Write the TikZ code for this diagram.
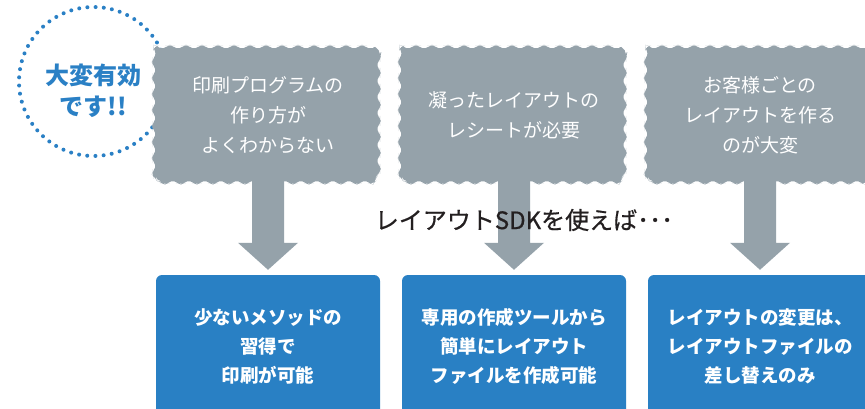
\documentclass[tikz,border=0pt]{standalone}
\usepackage{fontspec}
\setmainfont{Noto Sans CJK JP}
\usetikzlibrary{decorations.pathmorphing,calc}
\definecolor{boxgray}{HTML}{95A2AA}
\definecolor{boxblue}{HTML}{2980C4}
\definecolor{dotblue}{HTML}{2A80C5}
\definecolor{darktext}{HTML}{231F20}
\tikzset{
 wavybox/.style={fill=boxgray, minimum width=224pt, minimum height=136pt, inner sep=0pt,
   rounded corners=5pt, decorate, decoration={snake, segment length=16pt, amplitude=1.2pt},
   text=white, align=center, font=\fontsize{19}{30}\selectfont},
 bluebox/.style={fill=boxblue, minimum width=224pt, minimum height=142pt, inner sep=0pt,
   rounded corners=6pt, text=white, align=center, font=\fontsize{18.5}{29}\selectfont\bfseries},
 badge/.style={circle, draw=dotblue, line width=4pt, dash pattern=on 0pt off 8.21pt,
   line cap=round, minimum size=149pt, inner sep=0pt},
 badgetext/.style={text=dotblue, align=center, font=\fontsize{24}{31}\selectfont\bfseries},
 midtext/.style={text=darktext, font=\fontsize{24}{27}\selectfont\addfontfeature{FakeBold=0.6}},
}
\newcommand\blkarrow[2]{%
  \fill[boxgray] ($(#1.south)+(-16,-4)$) -- ($(#2.north)+(-16,-32)$) -- ($(#2.north)+(-30,-32)$)
    -- ($(#2.north)+(0,-5)$) -- ($(#2.north)+(30,-32)$) -- ($(#2.north)+(16,-32)$)
    -- ($(#1.south)+(16,-4)$) -- cycle;}
\begin{document}
\begin{tikzpicture}[x=1pt,y=-1pt]
\clip (0,0) rectangle (865,409);
\fill[white] (0,0) rectangle (865,409);
\node[badge] (bdg) at (93.5,81.5) {};
\node[wavybox] (g1) at (268,115) {印刷プログラムの\\作り方が\\よくわからない};
\node[wavybox] (g2) at (514,115) {凝ったレイアウトの\\レシートが必要};
\node[wavybox] (g3) at (760,115) {お客様ごとの\\レイアウトを作る\\のが大変};
\node[bluebox] (b1) at (268,346) {少ないメソッドの\\習得で\\印刷が可能};
\node[bluebox] (b2) at (514,346) {専用の作成ツールから\\簡単にレイアウト\\ファイルを作成可能};
\node[bluebox] (b3) at (760,346) {レイアウトの変更は、\\レイアウトファイルの\\差し替えのみ};
\blkarrow{g1}{b1}
\blkarrow{g2}{b2}
\blkarrow{g3}{b3}
\node[badgetext] (bdgt) at (93.5,90.5) {大変有効\\です!!};
\node[midtext] (sdk) at (524,220) {レイアウトSDKを使えば･･･};
\end{tikzpicture}
\end{document}
